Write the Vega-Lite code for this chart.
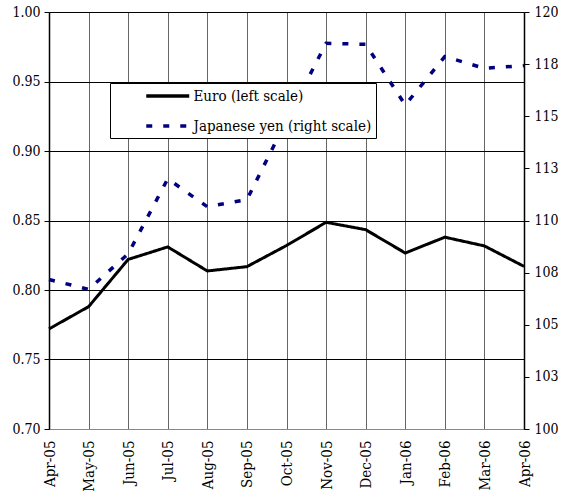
{
  "$schema": "https://vega.github.io/schema/vega-lite/v6.json",
  "autosize": "none",
  "width": 475,
  "height": 417,
  "padding": {"left": 49, "top": 12, "right": 49, "bottom": 68},
  "background": "white",
  "data": {
    "values": [
      {"month": "Apr-05", "series": "Euro (left scale)", "value": 0.772},
      {"month": "May-05", "series": "Euro (left scale)", "value": 0.788},
      {"month": "Jun-05", "series": "Euro (left scale)", "value": 0.822},
      {"month": "Jul-05", "series": "Euro (left scale)", "value": 0.831},
      {"month": "Aug-05", "series": "Euro (left scale)", "value": 0.8137},
      {"month": "Sep-05", "series": "Euro (left scale)", "value": 0.8168},
      {"month": "Oct-05", "series": "Euro (left scale)", "value": 0.832},
      {"month": "Nov-05", "series": "Euro (left scale)", "value": 0.8487},
      {"month": "Dec-05", "series": "Euro (left scale)", "value": 0.8434},
      {"month": "Jan-06", "series": "Euro (left scale)", "value": 0.8266},
      {"month": "Feb-06", "series": "Euro (left scale)", "value": 0.838},
      {"month": "Mar-06", "series": "Euro (left scale)", "value": 0.8317},
      {"month": "Apr-06", "series": "Euro (left scale)", "value": 0.817},
      {"month": "Apr-05", "series": "Japanese yen (right scale)", "value": 107.17},
      {"month": "May-05", "series": "Japanese yen (right scale)", "value": 106.7},
      {"month": "Jun-05", "series": "Japanese yen (right scale)", "value": 108.4},
      {"month": "Jul-05", "series": "Japanese yen (right scale)", "value": 112.0},
      {"month": "Aug-05", "series": "Japanese yen (right scale)", "value": 110.66},
      {"month": "Sep-05", "series": "Japanese yen (right scale)", "value": 111.0},
      {"month": "Oct-05", "series": "Japanese yen (right scale)", "value": 114.8},
      {"month": "Nov-05", "series": "Japanese yen (right scale)", "value": 118.5},
      {"month": "Dec-05", "series": "Japanese yen (right scale)", "value": 118.45},
      {"month": "Jan-06", "series": "Japanese yen (right scale)", "value": 115.54},
      {"month": "Feb-06", "series": "Japanese yen (right scale)", "value": 117.86},
      {"month": "Mar-06", "series": "Japanese yen (right scale)", "value": 117.3},
      {"month": "Apr-06", "series": "Japanese yen (right scale)", "value": 117.43}
    ]
  },
  "encoding": {
    "x": {
      "field": "month",
      "type": "ordinal",
      "sort": ["Apr-05","May-05","Jun-05","Jul-05","Aug-05","Sep-05","Oct-05","Nov-05","Dec-05","Jan-06","Feb-06","Mar-06","Apr-06"],
      "scale": {"type": "point", "padding": 0},
      "axis": {
        "title": null,
        "labelAngle": 270,
        "labelFontSize": 15,
        "grid": true,
        "gridColor": "#666666",
        "gridWidth": 1,
        "domainColor": "#888888",
        "ticks": false,
        "labelPadding": 11
      }
    },
    "color": {
      "field": "series",
      "type": "nominal",
      "scale": {"domain": ["Euro (left scale)", "Japanese yen (right scale)"], "range": ["#000000", "#000080"]},
      "legend": {
        "orient": "none",
        "legendX": 61,
        "legendY": 71,
        "title": null,
        "strokeColor": "#000000",
        "fillColor": "#ffffff",
        "padding": 4,
        "symbolType": "M-3.07,0H3.07",
        "symbolSize": 196,
        "symbolStrokeWidth": 3.5,
        "symbolOffset": 44.75,
        "labelFont": "DejaVu Serif Condensed",
        "labelFontSize": 15,
        "labelColor": "#000000",
        "labelOffset": 16.75,
        "labelLimit": 500,
        "rowPadding": 13,
        "encode": {"entries": {"update": {"width": {"value": 292}}}}
      }
    },
    "strokeDash": {
      "field": "series",
      "type": "nominal",
      "scale": {"domain": ["Euro (left scale)", "Japanese yen (right scale)"], "range": [[1, 0], [6, 11]]},
      "legend": {
        "orient": "none",
        "legendX": 61,
        "legendY": 71,
        "title": null,
        "strokeColor": "#000000",
        "fillColor": "#ffffff",
        "padding": 4,
        "symbolType": "M-3.07,0H3.07",
        "symbolSize": 196,
        "symbolStrokeWidth": 3.5,
        "symbolOffset": 44.75,
        "labelFont": "DejaVu Serif Condensed",
        "labelFontSize": 15,
        "labelColor": "#000000",
        "labelOffset": 16.75,
        "labelLimit": 500,
        "rowPadding": 13,
        "encode": {"entries": {"update": {"width": {"value": 292}}}}
      }
    }
  },
  "layer": [
    {
      "transform": [{"filter": "datum.series === 'Euro (left scale)'"}],
      "mark": {"type": "line", "strokeWidth": 3},
      "encoding": {
        "y": {
          "field": "value",
          "type": "quantitative",
          "scale": {"domain": [0.7, 1.0], "zero": false, "nice": false},
          "axis": {
            "title": null,
            "orient": "left",
            "values": [0.7, 0.75, 0.8, 0.85, 0.9, 0.95, 1.0],
            "format": ".2f",
            "grid": true,
            "gridColor": "#000000",
            "gridWidth": 1,
            "domainColor": "#000000",
            "domainWidth": 1.5,
            "tickColor": "#000000",
            "tickSize": 5,
            "labelPadding": 4
          }
        }
      }
    },
    {
      "transform": [{"filter": "datum.series === 'Japanese yen (right scale)'"}],
      "mark": {"type": "line", "strokeWidth": 3.5},
      "encoding": {
        "y": {
          "field": "value",
          "type": "quantitative",
          "scale": {"domain": [100, 120], "zero": false, "nice": false},
          "axis": {
            "title": null,
            "orient": "right",
            "values": [100, 102.5, 105, 107.5, 110, 112.5, 115, 117.5, 120],
            "format": ".0f",
            "grid": false,
            "domainColor": "#000000",
            "domainWidth": 1.5,
            "tickColor": "#000000",
            "tickSize": 5,
            "labelPadding": 5
          }
        }
      }
    }
  ],
  "resolve": {"scale": {"y": "independent"}},
  "config": {
    "view": {"stroke": null},
    "axis": {
      "labelFont": "DejaVu Serif Condensed",
      "labelFontSize": 14,
      "labelColor": "#000000"
    }
  }
}
